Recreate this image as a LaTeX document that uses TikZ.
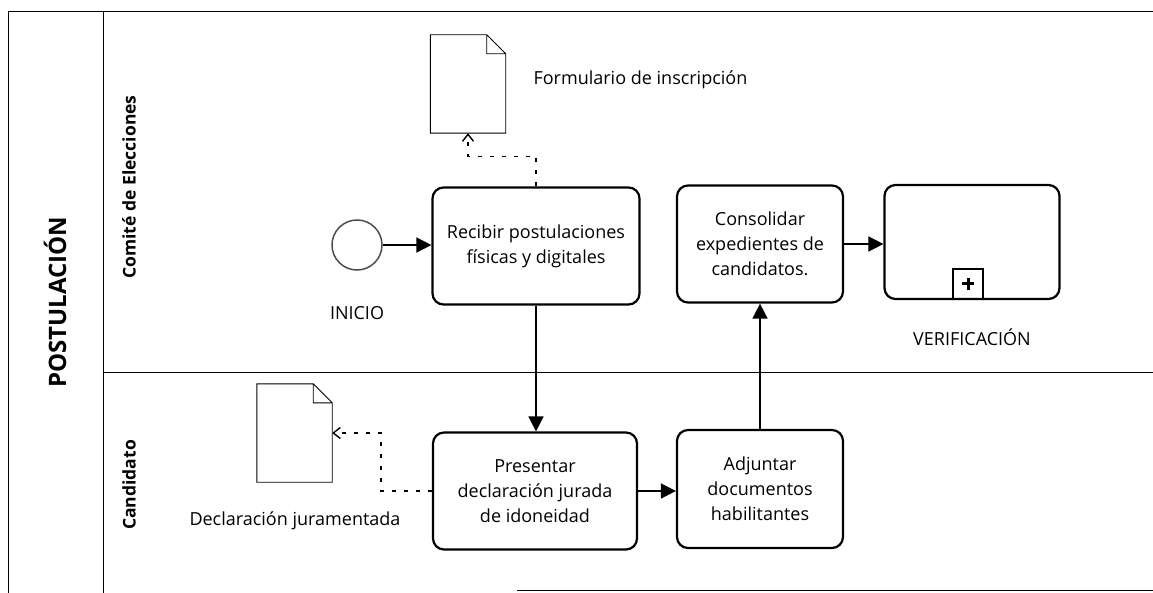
\documentclass[tikz,border=0pt]{standalone}
\usepackage{fontspec}
\setmainfont{Open Sans}
\usetikzlibrary{arrows.meta,positioning}

\begin{document}
\begin{tikzpicture}[x=1pt,y=-1pt,>={Triangle[length=15pt,width=15pt]},
  font=\fontsize{18}{25}\selectfont,
  task/.style={draw,line width=2.2pt,rounded corners=11pt,align=center,inner sep=0pt},
  doc/.style={minimum width=75pt,minimum height=98pt,inner sep=0pt},
  flow/.style={->,line width=1.5pt},
  assoc/.style={-{Straight Barb[length=7pt,width=11pt]},line width=1.4pt,dash pattern=on 4pt off 8pt},
  lane/.style={font=\fontsize{17.5}{20}\selectfont\bfseries,rotate=90}]
  \useasboundingbox (0,0) rectangle (1153,593);
  \draw[line width=1pt] (1153,12) -- (8,12) -- (8,593);
  \draw[line width=0.8pt] (103,12) -- (103,593);
  \draw[line width=0.8pt] (103,372) -- (1153,372);
  \draw[line width=1pt] (517,590) -- (1153,590);

  \node[rotate=90,font=\fontsize{24}{28}\selectfont\bfseries] (pool) at (55,302) {POSTULACIÓN};
  \node[lane] (comite) at (129,187) {Comité de Elecciones};
  \node[lane] (cand) at (129,485) {Candidato};

  \node[circle,draw=black!70,line width=1.5pt,minimum size=50pt] (ini) at (357,245) {};
  \node (inilbl) at (357,313) {INICIO};
  \node[task,minimum width=207pt,minimum height=117pt] (rec) at (536,246) {Recibir postulaciones\\físicas y digitales};
  \node[task,minimum width=166pt,minimum height=117pt] (cons) at (760,244) {Consolidar\\expedientes de\\candidatos.};
  \node[task,minimum width=175pt,minimum height=114pt] (verif) at (972,242) {};
  \node[draw,line width=2.2pt,minimum size=30pt,anchor=south] (mark) at ([xshift=-4pt]verif.south) {};
  \draw[line width=3pt] ([xshift=-6pt]mark.center) -- ([xshift=6pt]mark.center)
    ([yshift=-6pt]mark.center) -- ([yshift=6pt]mark.center);
  \node (veriflbl) at (972,337) {VERIFICACIÓN};

  \node[doc] (form) at (468,84) {};
  \node[anchor=west] (formlbl) at (530,80) {Formulario de inscripción};
  \node[doc] (decl) at (294.5,433) {};
  \node (decllbl) at (295,521) {Declaración juramentada};
  \node[task,minimum width=204pt,minimum height=117pt] (pres) at (535,491) {Presentar\\declaración jurada\\de idoneidad};
  \node[task,minimum width=166pt,minimum height=118pt] (adj) at (760,489) {Adjuntar\\documentos\\habilitantes};

  \foreach \d in {form,decl}
    \draw[line width=0.9pt] (\d.north west) -- ([xshift=-19pt]\d.north east) -- ([yshift=-19pt]\d.north east)
      -- (\d.south east) -- (\d.south west) -- cycle
      ([xshift=-19pt]\d.north east) |- ([yshift=-19pt]\d.north east);

  \draw[flow] (ini.east) -- (ini.east -| rec.west);
  \draw[flow] (rec.south) -- (rec.south |- pres.north);
  \draw[flow] (pres.east) -- (pres.east -| adj.west);
  \draw[flow] (adj) -- (cons);
  \draw[flow] (cons.east) -- (cons.east -| verif.west);
  \draw[assoc] (rec.north) -- ++(0,-30) -| (form.south);
  \draw[assoc] (pres.west) -- ++(-51,0) |- (decl.east);
\end{tikzpicture}
\end{document}
